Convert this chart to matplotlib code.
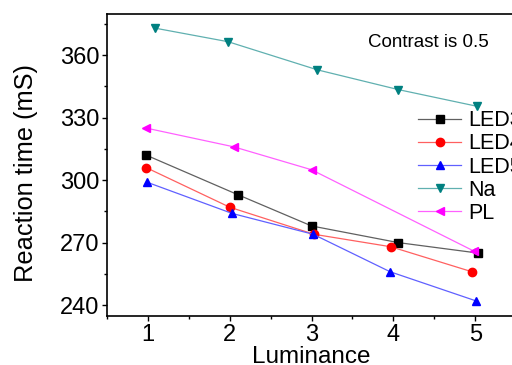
import numpy as np
import matplotlib
matplotlib.use("Agg")
from matplotlib import pyplot as plt
from matplotlib.ticker import MultipleLocator

plt.rcParams['font.family'] = ['Liberation Sans', 'DejaVu Sans']

# luminance positions (slightly jittered as in the original plot)
led3_x = [0.98, 2.10, 3.00, 4.06, 5.03]
led3_y = [312, 293, 278, 270, 265]
led4_x = [0.98, 2.00, 3.03, 3.97, 4.96]
led4_y = [306, 287, 274, 268, 256]
led5_x = [0.99, 2.03, 3.02, 3.96, 5.01]
led5_y = [299, 284, 274, 256, 242]
na_x = [1.09, 1.98, 3.07, 4.06, 5.02]
na_y = [373, 366.5, 353, 343.5, 335.5]
pl_x = [0.98, 2.05, 3.00, 4.98]
pl_y = [325, 316, 305, 266]

series = [
    ("LED3", led3_x, led3_y, "s", "#000000", "#606060"),
    ("LED4", led4_x, led4_y, "o", "#ff0000", "#ff6060"),
    ("LED5", led5_x, led5_y, "^", "#0000ff", "#6060ff"),
    ("Na", na_x, na_y, "v", "#008080", "#60b0b0"),
    ("PL", pl_x, pl_y, "<", "#ff00ff", "#ff60ff"),
]

fig = plt.figure(figsize=(5.12, 3.65), dpi=100)
ax = fig.add_axes([0.209, 0.134, 0.799, 0.827])

for name, xs, ys, mk, mc, lc in series:
    ax.plot(xs, ys, color=lc, lw=0.9, marker=mk, ms=6,
            mfc=mc, mec=mc, label=name)

ax.set_xlim(0.5, 5.5)
ax.set_ylim(234.7, 379.7)
ax.xaxis.set_major_locator(MultipleLocator(1))
ax.xaxis.set_minor_locator(MultipleLocator(0.5))
ax.yaxis.set_major_locator(MultipleLocator(30))
ax.yaxis.set_minor_locator(MultipleLocator(15))
ax.tick_params(which='both', direction='out', top=False, right=False,
               labelsize=17, width=1)
ax.tick_params(which='major', length=3.5)
ax.tick_params(which='minor', length=2)
ax.tick_params(axis='x', which='major', pad=2)
ax.tick_params(axis='y', which='major', pad=2)
for s in ax.spines.values():
    s.set_linewidth(1.2)

ax.set_xlabel("Luminance", fontsize=17.5, labelpad=0.5)
ax.set_ylabel("Reaction time (mS)", fontsize=18.3)
ax.yaxis.set_label_coords(-0.169, 0.474)

ax.text(4.43, 366.3, "Contrast is 0.5", fontsize=13.5, ha='center', va='center')

ax.legend(loc='upper left', bbox_to_anchor=(0.817, 0.698),
          bbox_transform=fig.transFigure, frameon=False, fontsize=15.5,
          handlelength=2.0, handletextpad=0.3, labelspacing=0.1,
          borderpad=0, borderaxespad=0)

plt.savefig("out.png", dpi=100)
